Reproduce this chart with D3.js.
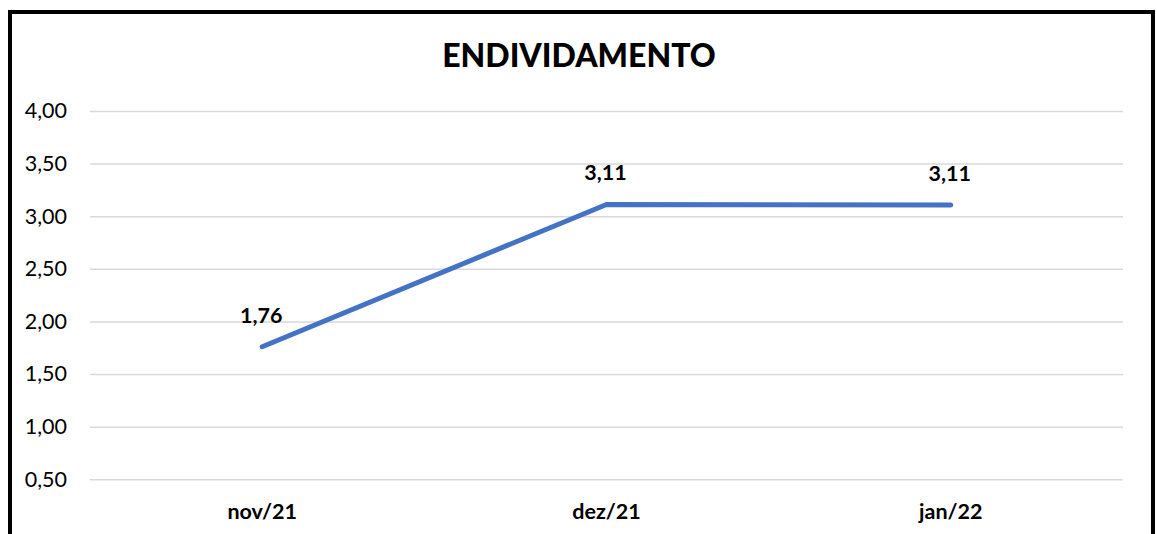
<!DOCTYPE html>
<html>
<head>
<meta charset="utf-8">
<script src="https://cdn.jsdelivr.net/npm/d3@7"></script>
<style>
  body { margin: 0; background: #fff; }
  svg { display: block; }
  text { font-family: Lato, "Open Sans", sans-serif; fill: #000; }
</style>
</head>
<body>
<div id="chart"></div>
<script>
// data
var categories = ["nov/21", "dez/21", "jan/22"];
var values = [1.76, 3.112, 3.106];
var yTicks = [0.5, 1, 1.5, 2, 2.5, 3, 3.5, 4];
var title = "ENDIVIDAMENTO";

var W = 1157, H = 534;
var plot = {left: 90, right: 1123, top: 111, bottom: 479.3};

var pt = d3.formatLocale({decimal: ",", thousands: ".", grouping: [3], currency: ["R$", ""]});
var fmt = pt.format(".2f");

var svg = d3.select("#chart")
  .append("svg")
    .attr("width", W)
    .attr("height", H);

// outer frame
svg.append("rect")
  .attr("x", 10)
  .attr("y", 12)
  .attr("width", 1143)
  .attr("height", 540)
  .style("fill", "#fff")
  .style("stroke", "#000")
  .style("stroke-width", 4);

// scales
var x = d3.scaleBand()
  .domain(categories)
  .range([plot.left, plot.right])
  .padding(0);

var y = d3.scaleLinear()
  .domain([0.5, 4])
  .range([plot.bottom, plot.top]);

// gridlines + y labels
var yAxis = svg.append("g")
  .attr("transform", "translate(" + plot.left + ",0)")
  .call(d3.axisLeft(y)
    .tickValues(yTicks)
    .tickSize(-(plot.right - plot.left))
    .tickPadding(23)
    .tickFormat(fmt));
yAxis.select(".domain").remove();
yAxis.selectAll(".tick line")
  .style("stroke", "#d9d9d9")
  .style("stroke-width", 1.5);
yAxis.selectAll(".tick text")
  .style("font-family", "Lato, sans-serif")
  .style("font-size", "21.5px")
  .attr("fill", "#000");

// x labels
var xAxis = svg.append("g")
  .attr("transform", "translate(0," + plot.bottom + ")")
  .call(d3.axisBottom(x).tickSize(0).tickPadding(24));
xAxis.select(".domain").remove();
xAxis.selectAll(".tick text")
  .style("font-family", "Lato, sans-serif")
  .style("font-size", "21.5px")
  .style("font-weight", "bold")
  .attr("fill", "#000");

// title
svg.append("text")
  .attr("x", 579)
  .attr("y", 67)
  .attr("text-anchor", "middle")
  .style("font-size", "32px")
  .style("font-weight", "900")
  .text(title);

// line
var data = categories.map(function(c, i){ return {cat: c, v: values[i]}; });

svg.append("path")
  .datum(data)
  .attr("d", d3.line()
    .x(function(d){ return x(d.cat) + x.bandwidth() / 2; })
    .y(function(d){ return y(d.v); }))
  .style("fill", "none")
  .style("stroke", "#4472C4")
  .style("stroke-width", 5)
  .style("stroke-linecap", "round")
  .style("stroke-linejoin", "round");

// data labels
svg.selectAll(".lbl")
  .data(data)
  .enter()
  .append("text")
    .attr("class", "lbl")
    .attr("x", function(d){ return x(d.cat) + x.bandwidth() / 2 - 1; })
    .attr("y", function(d){ return y(d.v) - 24; })
    .attr("text-anchor", "middle")
    .style("font-size", "21.5px")
    .style("font-weight", "bold")
    .text(function(d){ return fmt(d.v); });
</script>
</body>
</html>
